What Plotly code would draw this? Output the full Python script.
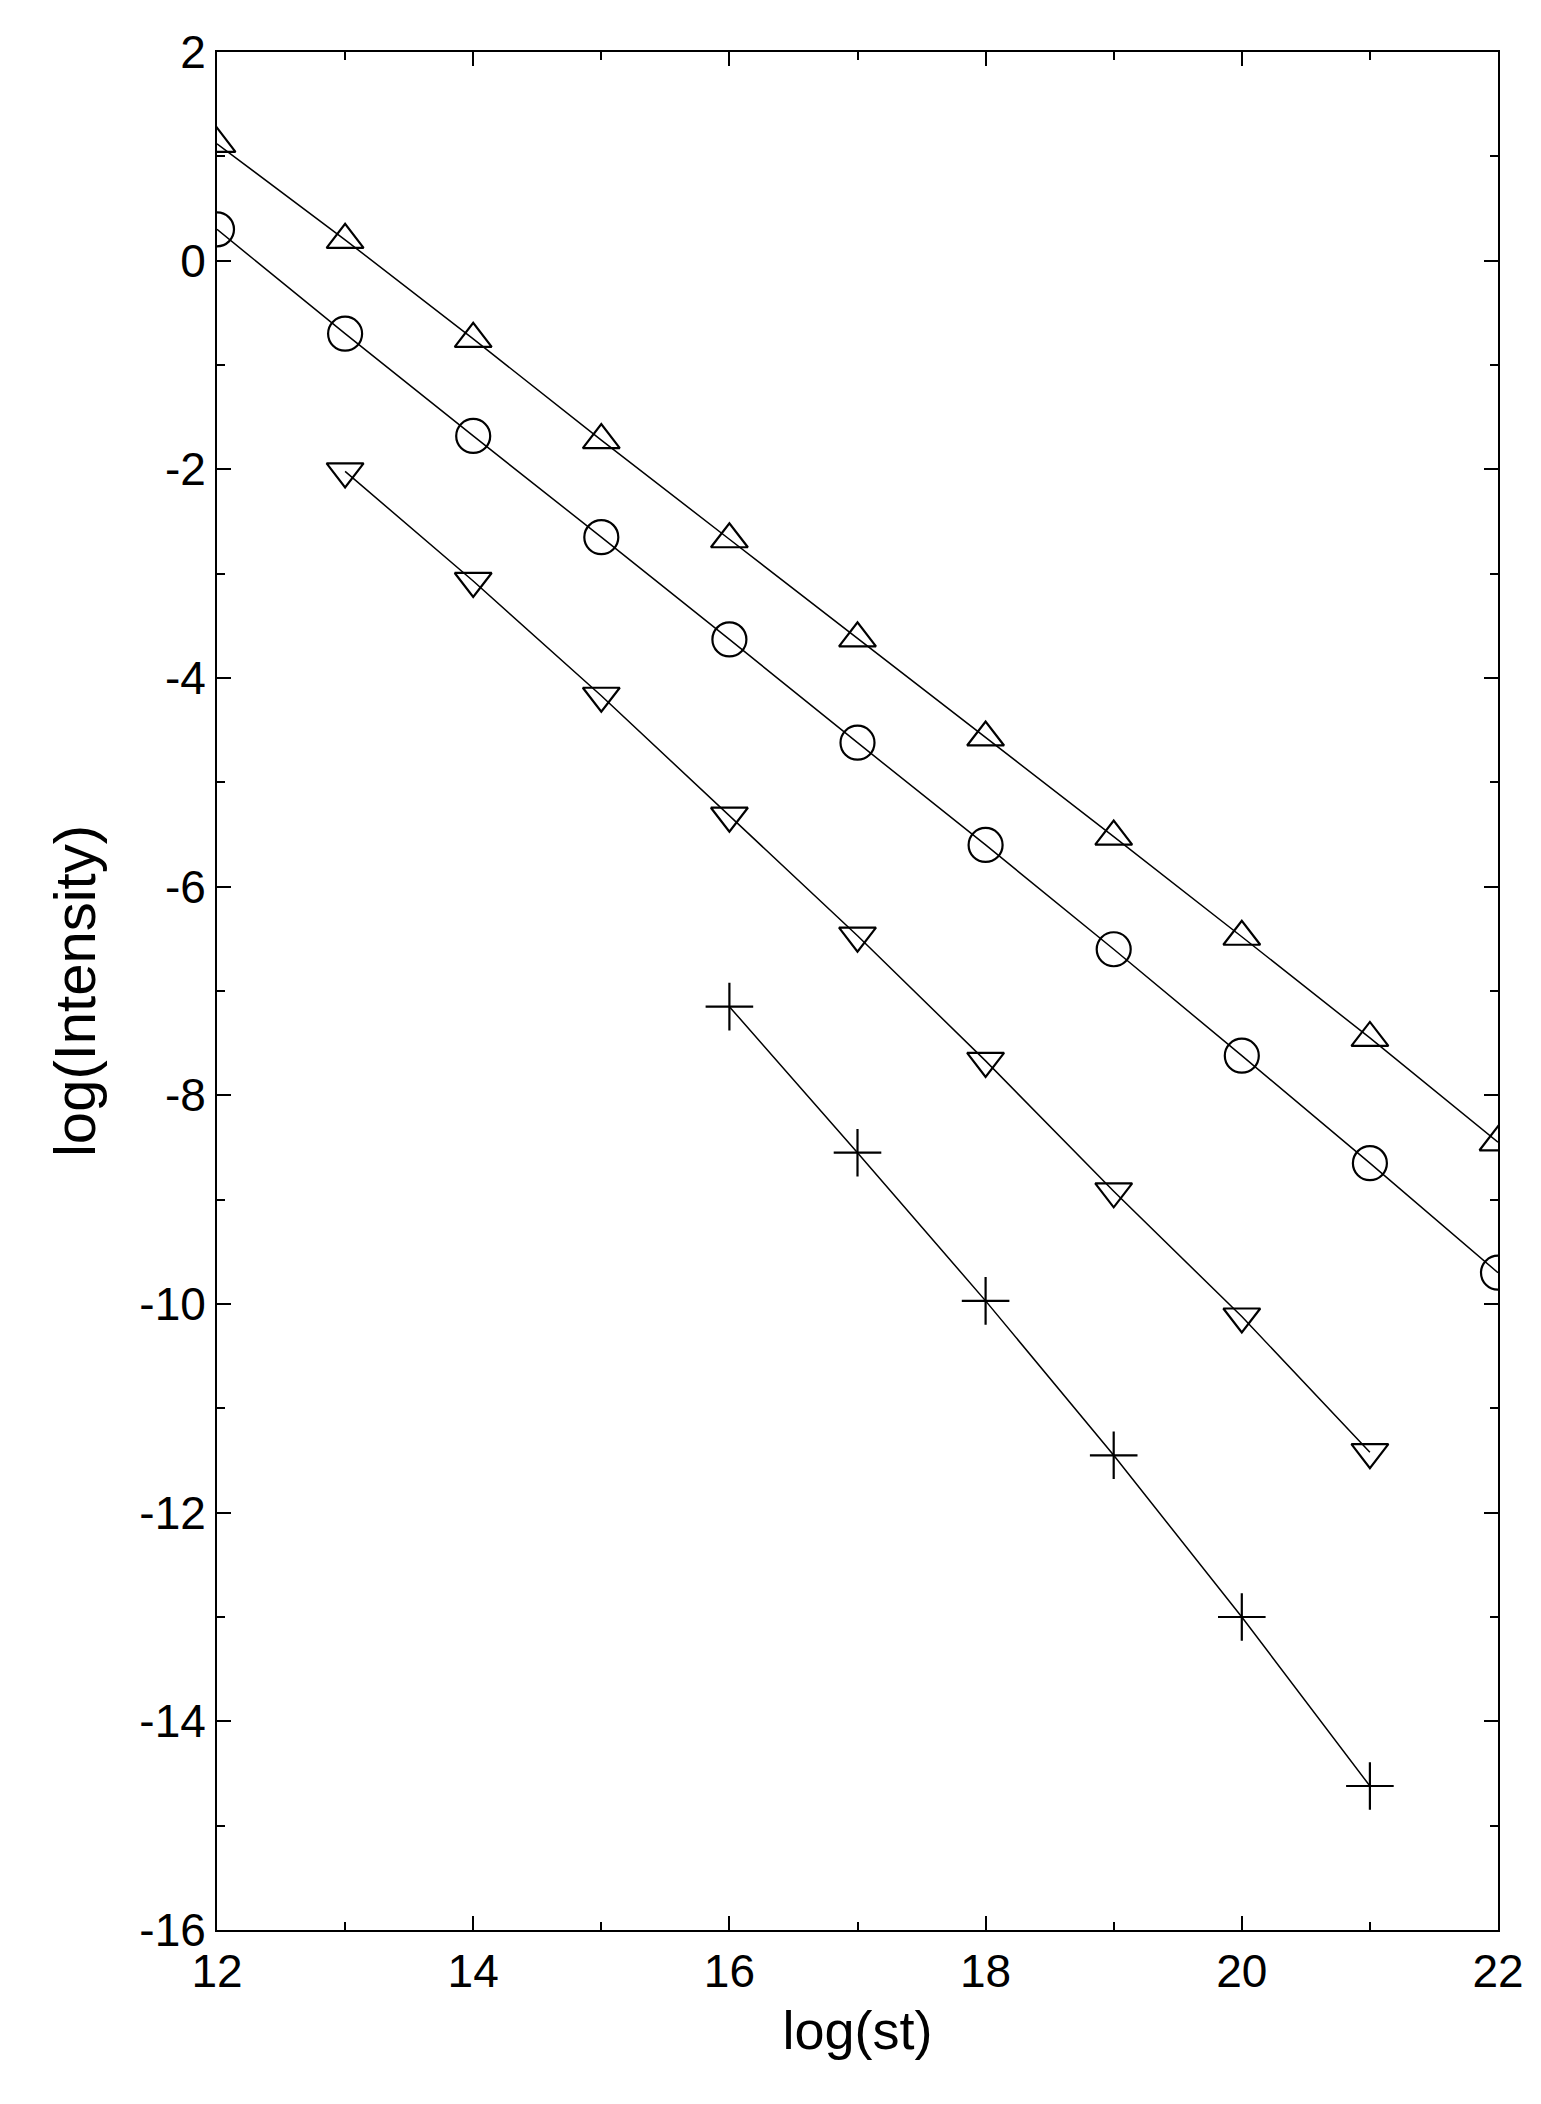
import plotly.graph_objects as go

x_up = [12,13,14,15,16,17,18,19,20,21,22]
y_up = [1.12,0.2,-0.75,-1.72,-2.67,-3.62,-4.57,-5.52,-6.48,-7.45,-8.45]
x_circ = [12,13,14,15,16,17,18,19,20,21,22]
y_circ = [0.3,-0.7,-1.68,-2.65,-3.63,-4.62,-5.6,-6.6,-7.62,-8.65,-9.7]
x_down = [13,14,15,16,17,18,19,20,21]
y_down = [-2.02,-3.07,-4.17,-5.32,-6.47,-7.67,-8.92,-10.12,-11.42]
x_plus = [16,17,18,19,20,21]
y_plus = [-7.15,-8.55,-9.97,-11.45,-13.0,-14.62]
y_ticks = [2,0,-2,-4,-6,-8,-10,-12,-14,-16]
x_ticks = [12,14,16,18,20,22]

fig = go.Figure()
def add(x, y, sym, size):
    fig.add_trace(go.Scatter(x=x, y=y, mode="lines+markers",
        line=dict(color="black", width=1.5),
        marker=dict(symbol=sym, size=size, color="rgba(0,0,0,0)", line=dict(color="black", width=2.2))))
add(x_up, y_up, "triangle-up", 32)
add(x_circ, y_circ, "circle", 34)
add(x_down, y_down, "triangle-down", 32)
add(x_plus, y_plus, "cross-thin", 34)

font = "Liberation Sans, Arial, sans-serif"
axcommon = dict(showgrid=False, zeroline=False, showline=True, linecolor="black", linewidth=2,
                mirror="allticks", ticks="inside", ticklen=14, tickwidth=2, tickcolor="black",
                tickfont=dict(size=46, family=font, color="black"),
                minor=dict(ticks="inside", ticklen=8, tickwidth=2, tickcolor="black", dtick=1))
fig.update_xaxes(range=[12,22], tickvals=x_ticks, ticktext=[str(v) for v in x_ticks],
                 title=dict(text="log(st)", font=dict(size=54, family=font, color="black"), standoff=15), **axcommon)
fig.update_yaxes(range=[-16,2], tickvals=y_ticks, ticktext=[str(v) for v in y_ticks],
                 title=dict(text="log(Intensity)", font=dict(size=58, family=font, color="black"), standoff=25), **axcommon)
fig.update_layout(width=1541, height=2104, showlegend=False, plot_bgcolor="white", paper_bgcolor="white",
                  margin=dict(l=209, r=51, t=44, b=182))
fig.write_html("out.html")
